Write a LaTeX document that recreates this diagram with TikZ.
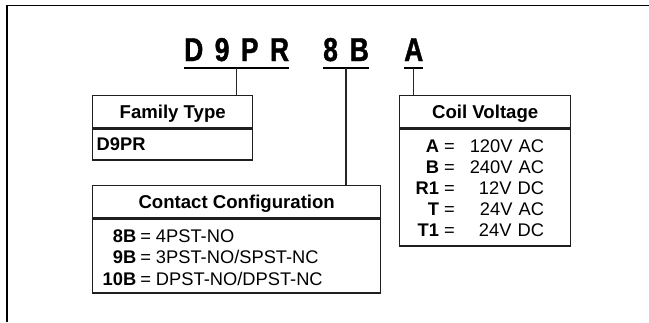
\documentclass[tikz,border=0pt]{standalone}
\usepackage{fontspec}
\setmainfont{Liberation Sans}
\newfontfamily\codefont{Liberation Sans}[FakeStretch=0.8,FakeBold=1.2]
\begin{document}
\begin{tikzpicture}[x=1pt,y=-1pt,
  frame/.style={draw=black, line width=1.7pt},
  code/.style={inner sep=0pt, font=\codefont\fontsize{33}{33}\selectfont\bfseries},
  uline/.style={draw=black, line width=2.6pt},
  conn/.style={draw=black!85, line width=1.2pt},
  boxst/.style={draw=black!88, line width=1.4pt, inner sep=0pt},
  head/.style={boxst, font=\fontsize{18.6}{21}\selectfont\bfseries, text height=13.3pt, text depth=0pt, minimum height=32pt},
  body/.style={boxst, font=\fontsize{18.3}{21.5}\selectfont, align=left}
]
\useasboundingbox (0,0) rectangle (649,322);
% outer frame (partial)
\draw[frame] (7,322) -- (7,5.5) -- (649,5.5);

% code letters
\node[code, anchor=base west] (c1) at (184,61) {D\hspace{11.5pt}9\hspace{11.5pt}P\hspace{11.5pt}R};
\node[code, anchor=base west] (c2) at (323,61) {8\hspace{12pt}B};
\node[code, anchor=base west] (c3) at (404,61) {A};
\foreach \n in {c1,c2,c3}{
  \draw[uline] ([yshift=-7pt]\n.base west) -- ([yshift=-7pt]\n.base east);
  \coordinate (\n u) at ([yshift=-7pt]\n.base);
}

% Family Type
\node[head, anchor=north west, minimum width=160pt] (famh) at (92,95) {Family Type};
\node[body, anchor=north west, minimum height=31pt, text width=152pt, inner xsep=4pt] (famb) at (famh.south west) {\textbf{D9PR}};

% Contact Configuration
\node[head, anchor=north west, minimum width=288pt] (conh) at (92,185) {Contact Configuration};
\node[body, anchor=north west, minimum height=74pt, text width=268pt, inner xsep=10pt] (conb) at (conh.south west)
 {\raisebox{-3.5pt}[\height][\depth]{\begin{tabular}{@{}r@{\hspace{4pt}=\hspace{5pt}}l@{}}
  \textbf{8B} & 4PST-NO\\
  \textbf{9B} & 3PST-NO/SPST-NC\\
  \textbf{10B} & DPST-NO/DPST-NC
 \end{tabular}}};

% Coil Voltage
\node[head, anchor=north west, minimum width=171pt] (coih) at (399,95) {Coil Voltage};
\node[body, font=\fontsize{18.3}{21}\selectfont, anchor=north west, minimum height=117pt, text width=139pt, inner xsep=16pt] (coib) at (coih.south west)
 {\raisebox{-3pt}[\height][\depth]{\begin{tabular}{@{}r@{\hspace{5pt}=\hspace{15pt}}r@{}}
  \textbf{A} & 120V AC\\
  \textbf{B} & 240V AC\\
  \textbf{R1} & 12V DC\\
  \textbf{T} & 24V AC\\
  \textbf{T1} & 24V DC
 \end{tabular}}};

% connectors
\draw[conn] (c1u) -- (c1u |- famh.north);
\draw[conn] (c2u) -- (c2u |- conh.north);
\draw[conn] (c3u) -- (c3u |- coih.north);
\end{tikzpicture}
\end{document}
